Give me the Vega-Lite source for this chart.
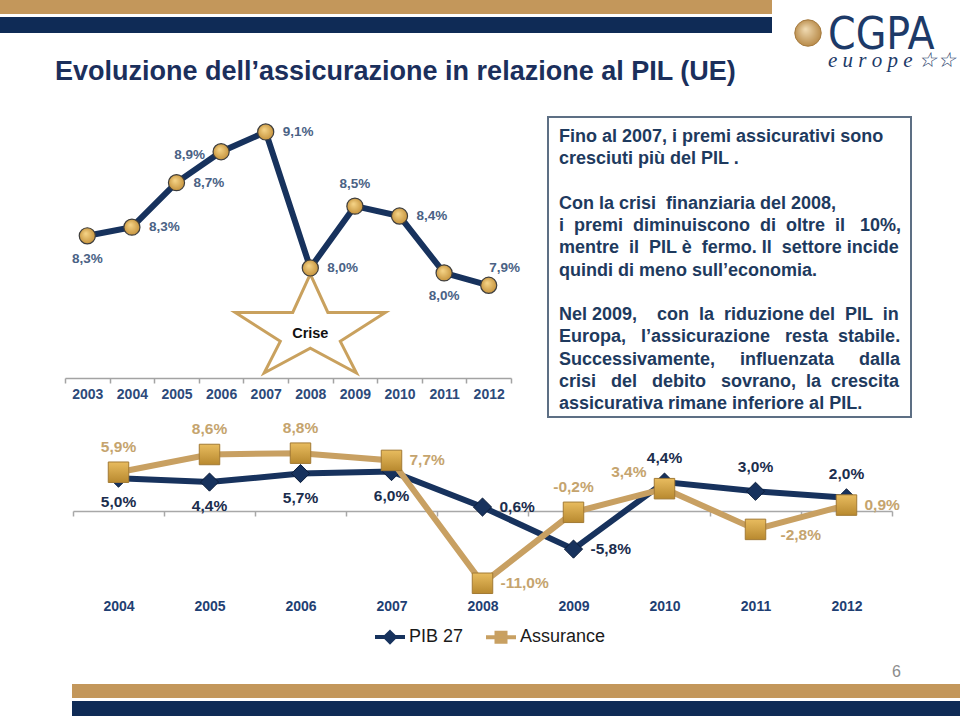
{
  "$schema": "https://vega.github.io/schema/vega-lite/v6.json",
  "padding": 0,
  "background": "white",
  "spacing": 3,
  "config": {
    "view": {"stroke": null},
    "font": "Liberation Sans",
    "locale": {"number": {"decimal": ",", "thousands": ".", "grouping": [3], "currency": ["", " €"], "minus": "-"}}
  },
  "vconcat": [
    {
      "spacing": 18,
      "hconcat": [
        {
          "spacing": 3,
          "vconcat": [
            {"width": 772, "height": 14, "view": {"fill": "#c3975b", "stroke": null}, "data": {"values": []}, "mark": "rect"},
            {"width": 772, "height": 16, "view": {"fill": "#0f2b56", "stroke": null}, "data": {"values": []}, "mark": "rect"},
            {
              "width": 772, "height": 77, "data": {"values": []}, "mark": "rect",
              "title": {"text": "Evoluzione dell’assicurazione in relazione al PIL (UE)", "orient": "bottom", "anchor": "start", "frame": "group", "baseline": "top", "offset": -54, "dx": 55, "font": "Liberation Sans", "fontSize": 27, "fontWeight": "bold", "color": "#1b2f5c"}
            }
          ]
        },
        {
          "width": 36, "height": 66,
          "data": {"values": [{"name": "globe"}]},
          "mark": {"type": "point", "shape": "circle", "size": 700, "filled": true, "opacity": 1,
                   "fill": {"gradient": "radial", "x1": 0.4, "y1": 0.35, "r1": 0, "x2": 0.5, "y2": 0.5, "r2": 0.6, "stops": [{"offset": 0, "color": "#f1dcb4"}, {"offset": 1, "color": "#b07f3a"}]},
                   "stroke": "#a57a3e", "strokeWidth": 1},
          "title": {"text": "CGPA", "subtitle": "e u r o p e ☆☆", "orient": "bottom", "anchor": "start", "frame": "group", "baseline": "top", "offset": -52, "dx": 38,
                    "font": "Liberation Sans Narrow, DejaVu Sans Condensed, sans-serif", "fontSize": 44, "fontWeight": "normal", "color": "#1d3a68",
                    "subtitleFont": "Liberation Serif", "subtitleFontStyle": "italic", "subtitleFontSize": 21, "subtitleColor": "#1d3a68", "subtitlePadding": -8}
        }
      ]
    },
    {
      "spacing": 17,
      "hconcat": [
        {
          "width": 530, "height": 261,
          "encoding": {
            "x": {"field": "year", "type": "ordinal",
                  "scale": {"type": "band", "range": [65, 511], "paddingInner": 0, "paddingOuter": 0},
                  "axis": {"title": null, "labelAngle": 0, "tickBand": "extent", "domainColor": "#a3a3a3", "domainWidth": 1.5, "tickColor": "#a3a3a3", "tickWidth": 1.5, "tickSize": 5,
                           "labelFont": "Liberation Sans", "labelFontWeight": "bold", "labelFontSize": 14, "labelColor": "#2d4a7a", "labelPadding": 4, "grid": false}},
            "y": {"field": "v", "type": "quantitative", "scale": {"domain": [0.0711, 0.09221], "nice": false, "zero": false}, "axis": null}
          },
          "layer": [
            {
              "data": {"values": [{"year": 2008, "v": 0.07555, "label": "Crise"}]},
              "layer": [
                {
                  "mark": {"type": "point", "shape": "M0,-0.653L0.234,-0.14L1,-0.14L0.4,0.245L0.615,0.667L0,0.335L-0.615,0.667L-0.4,0.245L-1,-0.14L-0.234,-0.14Z", "size": 22500, "filled": true, "fill": "white", "stroke": "#c9a15e", "strokeWidth": 3, "opacity": 1}
                },
                {
                  "mark": {"type": "text", "font": "Liberation Sans", "fontWeight": "bold", "fontSize": 14.5, "color": "#111111", "baseline": "middle", "dy": 11},
                  "encoding": {"text": {"field": "label", "type": "nominal"}}
                }
              ]
            },
            {
              "data": {"values": [
                {"year": 2003, "v": 0.0826},
                {"year": 2004, "v": 0.0833},
                {"year": 2005, "v": 0.0869},
                {"year": 2006, "v": 0.0894},
                {"year": 2007, "v": 0.091},
                {"year": 2008, "v": 0.080},
                {"year": 2009, "v": 0.085},
                {"year": 2010, "v": 0.0842},
                {"year": 2011, "v": 0.0796},
                {"year": 2012, "v": 0.0786}
              ]},
              "layer": [
                {"mark": {"type": "line", "color": "#17325d", "strokeWidth": 6}},
                {"mark": {"type": "point", "shape": "circle", "size": 260, "filled": true, "opacity": 1,
                          "fill": {"gradient": "radial", "x1": 0.4, "y1": 0.35, "r1": 0, "x2": 0.5, "y2": 0.5, "r2": 0.6, "stops": [{"offset": 0, "color": "#f7d68a"}, {"offset": 1, "color": "#bf8a32"}]},
                          "stroke": "#3d3d3d", "strokeWidth": 1.2}},
                {"transform": [{"filter": {"field": "year", "oneOf": [2003, 2011]}}],
                 "mark": {"type": "text", "fontWeight": "bold", "fontSize": 13.5, "color": "#4a6285", "baseline": "middle", "dy": 23},
                 "encoding": {"text": {"field": "v", "type": "quantitative", "format": ".1%"}}},
                {"transform": [{"filter": {"field": "year", "oneOf": [2004, 2005, 2007, 2008, 2010]}}],
                 "mark": {"type": "text", "fontWeight": "bold", "fontSize": 13.5, "color": "#4a6285", "baseline": "middle", "align": "left", "dx": 17},
                 "encoding": {"text": {"field": "v", "type": "quantitative", "format": ".1%"}}},
                {"transform": [{"filter": {"field": "year", "oneOf": [2006]}}],
                 "mark": {"type": "text", "fontWeight": "bold", "fontSize": 13.5, "color": "#4a6285", "baseline": "middle", "align": "right", "dx": -16, "dy": 3},
                 "encoding": {"text": {"field": "v", "type": "quantitative", "format": ".1%"}}},
                {"transform": [{"filter": {"field": "year", "oneOf": [2009]}}],
                 "mark": {"type": "text", "fontWeight": "bold", "fontSize": 13.5, "color": "#4a6285", "baseline": "middle", "dy": -22},
                 "encoding": {"text": {"field": "v", "type": "quantitative", "format": ".1%"}}},
                {"transform": [{"filter": {"field": "year", "oneOf": [2012]}}],
                 "mark": {"type": "text", "fontWeight": "bold", "fontSize": 13.5, "color": "#4a6285", "baseline": "middle", "dx": 16, "dy": -17},
                 "encoding": {"text": {"field": "v", "type": "quantitative", "format": ".1%"}}}
              ]
            }
          ]
        },
        {
          "width": 363, "height": 300,
          "view": {"stroke": "#5d6f84", "strokeWidth": 2, "fill": "white"},
          "data": {"values": [
            {"line": 1, "text": "Fino al 2007, i premi assicurativi sono"},
            {"line": 2, "text": "cresciuti più del PIL ."},
            {"line": 4, "text": "Con la crisi \u00a0finanziaria del 2008,"},
            {"line": 5, "text": "i \u00a0premi \u00a0diminuiscono \u00a0di \u00a0oltre \u00a0il \u00a0\u00a010%,"},
            {"line": 6, "text": "mentre \u00a0il \u00a0PIL è \u00a0fermo. Il \u00a0settore incide"},
            {"line": 7, "text": "quindi di meno sull’economia."},
            {"line": 9, "text": "Nel 2009, \u00a0\u00a0\u00a0con \u00a0la \u00a0riduzione del \u00a0PIL \u00a0in"},
            {"line": 10, "text": "Europa, \u00a0\u00a0l’assicurazione \u00a0\u00a0resta \u00a0stabile."},
            {"line": 11, "text": "Successivamente, \u00a0\u00a0\u00a0\u00a0influenzata \u00a0\u00a0\u00a0\u00a0dalla"},
            {"line": 12, "text": "crisi \u00a0\u00a0del \u00a0\u00a0debito \u00a0\u00a0sovrano, \u00a0la \u00a0crescita"},
            {"line": 13, "text": "assicurativa rimane inferiore al PIL."}
          ]},
          "mark": {"type": "text", "align": "left", "baseline": "middle", "font": "Liberation Sans", "fontWeight": "bold", "fontSize": 18, "color": "#1e3a5e", "dx": 11},
          "encoding": {
            "x": {"datum": 0, "type": "quantitative", "scale": {"domain": [0, 1]}, "axis": null},
            "y": {"field": "line", "type": "quantitative", "scale": {"domain": [0.1011, 13.584], "reverse": true, "nice": false, "zero": false}, "axis": null},
            "text": {"field": "text"}
          }
        }
      ]
    },
    {
      "width": 960, "height": 259,
      "title": {"text": "6", "orient": "bottom", "anchor": "end", "frame": "group", "baseline": "top", "offset": -17, "dx": -59, "font": "Liberation Sans", "fontSize": 16, "fontWeight": "normal", "color": "#8c8c8c"},
      "data": {"values": [
        {"year": 2004, "series": "PIB 27", "v": 0.050},
        {"year": 2005, "series": "PIB 27", "v": 0.044},
        {"year": 2006, "series": "PIB 27", "v": 0.057},
        {"year": 2007, "series": "PIB 27", "v": 0.060},
        {"year": 2008, "series": "PIB 27", "v": 0.006},
        {"year": 2009, "series": "PIB 27", "v": -0.058},
        {"year": 2010, "series": "PIB 27", "v": 0.044},
        {"year": 2011, "series": "PIB 27", "v": 0.030},
        {"year": 2012, "series": "PIB 27", "v": 0.020},
        {"year": 2004, "series": "Assurance", "v": 0.059},
        {"year": 2005, "series": "Assurance", "v": 0.086},
        {"year": 2006, "series": "Assurance", "v": 0.088},
        {"year": 2007, "series": "Assurance", "v": 0.077},
        {"year": 2008, "series": "Assurance", "v": -0.110},
        {"year": 2009, "series": "Assurance", "v": -0.002},
        {"year": 2010, "series": "Assurance", "v": 0.034},
        {"year": 2011, "series": "Assurance", "v": -0.028},
        {"year": 2012, "series": "Assurance", "v": 0.009}
      ]},
      "encoding": {
        "x": {"field": "year", "type": "ordinal",
              "scale": {"type": "band", "range": [73, 892], "paddingInner": 0, "paddingOuter": 0},
              "axis": {"title": null, "labelAngle": 0, "tickBand": "extent", "offset": -170, "domainColor": "#a8a8a8", "domainWidth": 1.5, "tickColor": "#a8a8a8", "tickWidth": 1.5, "tickSize": 5,
                       "labelFont": "Liberation Sans", "labelFontWeight": "bold", "labelFontSize": 14, "labelColor": "#1f3f73", "labelPadding": 83, "grid": false}},
        "y": {"field": "v", "type": "quantitative", "scale": {"domain": [-0.25875, 0.13546], "nice": false, "zero": false}, "axis": null}
      },
      "layer": [
        {"transform": [{"filter": {"field": "series", "equal": "PIB 27"}}],
         "mark": {"type": "line", "strokeWidth": 6},
         "encoding": {"color": {"field": "series", "type": "nominal",
            "scale": {"domain": ["PIB 27", "Assurance"], "range": ["#17325d", "#c8a062"]},
            "legend": {"orient": "none", "legendX": 373, "legendY": 620, "direction": "horizontal", "title": null, "symbolSize": 900,
                       "labelFont": "Liberation Sans", "labelFontSize": 18, "labelColor": "#1a1a1a", "labelOffset": 2, "columnPadding": 14,
                       "encode": {"symbols": {"update": {
                          "shape": {"signal": "datum.value === 'PIB 27' ? 'M-1,0L1,0M0,-0.32L0.32,0L0,0.32L-0.32,0Z' : 'M-1,0L1,0M-0.3,-0.3L0.3,-0.3L0.3,0.3L-0.3,0.3Z'"},
                          "fill": {"signal": "datum.value === 'PIB 27' ? '#17325d' : '#d4a54e'"},
                          "stroke": {"signal": "datum.value === 'PIB 27' ? '#17325d' : '#c8a062'"},
                          "strokeWidth": {"value": 4},
                          "opacity": {"value": 1}}}}}}}},
        {"transform": [{"filter": {"field": "series", "equal": "PIB 27"}}],
         "mark": {"type": "point", "shape": "diamond", "size": 330, "filled": true, "opacity": 1, "fill": "#17325d", "stroke": "#0c1d3a", "strokeWidth": 1}},
        {"transform": [{"filter": {"field": "series", "equal": "Assurance"}}],
         "mark": {"type": "line", "strokeWidth": 6},
         "encoding": {"color": {"field": "series", "type": "nominal",
            "scale": {"domain": ["PIB 27", "Assurance"], "range": ["#17325d", "#c8a062"]}}}},
        {"transform": [{"filter": {"field": "series", "equal": "Assurance"}}],
         "mark": {"type": "point", "shape": "square", "size": 420, "filled": true, "opacity": 1,
                  "fill": {"gradient": "linear", "x1": 0, "y1": 0, "x2": 0, "y2": 1, "stops": [{"offset": 0, "color": "#e8bc5f"}, {"offset": 1, "color": "#b8892f"}]},
                  "stroke": "#a27a34", "strokeWidth": 1}},
        {"transform": [{"filter": {"and": [{"field": "series", "equal": "PIB 27"}, {"field": "year", "oneOf": [2004, 2005, 2006, 2007]}]}}],
         "mark": {"type": "text", "fontWeight": "bold", "fontSize": 15.5, "color": "#1b2d4d", "baseline": "middle", "dy": 24},
         "encoding": {"text": {"field": "v", "type": "quantitative", "format": ".1%"}}},
        {"transform": [{"filter": {"and": [{"field": "series", "equal": "PIB 27"}, {"field": "year", "oneOf": [2008, 2009]}]}}],
         "mark": {"type": "text", "fontWeight": "bold", "fontSize": 15.5, "color": "#1b2d4d", "baseline": "middle", "align": "left", "dx": 17},
         "encoding": {"text": {"field": "v", "type": "quantitative", "format": ".1%"}}},
        {"transform": [{"filter": {"and": [{"field": "series", "equal": "PIB 27"}, {"field": "year", "oneOf": [2010, 2011, 2012]}]}}],
         "mark": {"type": "text", "fontWeight": "bold", "fontSize": 15.5, "color": "#1b2d4d", "baseline": "middle", "dy": -24},
         "encoding": {"text": {"field": "v", "type": "quantitative", "format": ".1%"}}},
        {"transform": [{"filter": {"and": [{"field": "series", "equal": "Assurance"}, {"field": "year", "oneOf": [2004, 2005, 2006, 2009]}]}}],
         "mark": {"type": "text", "fontWeight": "bold", "fontSize": 15.5, "color": "#c5a46e", "baseline": "middle", "dy": -25},
         "encoding": {"text": {"field": "v", "type": "quantitative", "format": ".1%"}}},
        {"transform": [{"filter": {"and": [{"field": "series", "equal": "Assurance"}, {"field": "year", "oneOf": [2007, 2008, 2012]}]}}],
         "mark": {"type": "text", "fontWeight": "bold", "fontSize": 15.5, "color": "#c5a46e", "baseline": "middle", "align": "left", "dx": 18},
         "encoding": {"text": {"field": "v", "type": "quantitative", "format": ".1%"}}},
        {"transform": [{"filter": {"and": [{"field": "series", "equal": "Assurance"}, {"field": "year", "oneOf": [2011]}]}}],
         "mark": {"type": "text", "fontWeight": "bold", "fontSize": 15.5, "color": "#c5a46e", "baseline": "middle", "align": "left", "dx": 25, "dy": 6},
         "encoding": {"text": {"field": "v", "type": "quantitative", "format": ".1%"}}},
        {"transform": [{"filter": {"and": [{"field": "series", "equal": "Assurance"}, {"field": "year", "oneOf": [2010]}]}}],
         "mark": {"type": "text", "fontWeight": "bold", "fontSize": 15.5, "color": "#c5a46e", "baseline": "middle", "align": "right", "dx": -18, "dy": -17},
         "encoding": {"text": {"field": "v", "type": "quantitative", "format": ".1%"}}}
      ]
    },
    {
      "spacing": 3,
      "vconcat": [
        {"spacing": 15, "hconcat": [
          {"width": 57, "height": 14, "data": {"values": []}, "mark": "rect"},
          {"width": 888, "height": 14, "view": {"fill": "#c3975b", "stroke": null}, "data": {"values": []}, "mark": "rect"}
        ]},
        {"spacing": 15, "hconcat": [
          {"width": 57, "height": 16, "data": {"values": []}, "mark": "rect"},
          {"width": 888, "height": 16, "view": {"fill": "#0f2b56", "stroke": null}, "data": {"values": []}, "mark": "rect"}
        ]}
      ]
    }
  ]
}
